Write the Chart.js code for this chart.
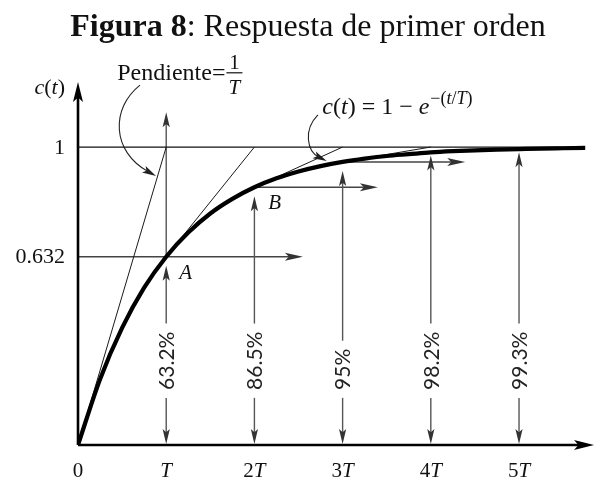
<!DOCTYPE html>
<html>
<head>
<meta charset="utf-8">
<script src="https://cdn.jsdelivr.net/npm/chart.js@4.4.1/dist/chart.umd.min.js"></script>
<style>
  html, body { margin: 0; padding: 0; background: #ffffff; }
  #wrap { width: 596px; height: 480px; }
</style>
</head>
<body>
<div id="wrap"><canvas id="chart" width="596" height="480"></canvas></div>
<script>
// Step response of a first-order system, time in multiples of T
const curveT = [0, 0.25, 0.5, 0.75, 1, 1.25, 1.5, 1.75, 2, 2.25, 2.5, 2.75, 3,
                3.25, 3.5, 3.75, 4, 4.25, 4.5, 4.75, 5, 5.25, 5.5, 5.75];
const curveC = [0, 0.221, 0.393, 0.528, 0.632, 0.713, 0.777, 0.826, 0.865, 0.895, 0.918, 0.936, 0.950,
                0.961, 0.970, 0.976, 0.982, 0.986, 0.989, 0.991, 0.993, 0.995, 0.996, 0.997];

// x axis ticks
const tickValues = [0, 1, 2, 3, 4, 5];
const tickLabels = ['0', 'T', '2T', '3T', '4T', '5T'];

// y axis marks
const levelValues = [0.632, 1];
const levelLabels = ['0.632', '1'];

// percentage reached after each time constant
const percentTimes = [1, 2, 3, 4, 5];
const percentValues = [63.2, 86.5, 95, 98.2, 99.3];
const percentLabels = ['63.2%', '86.5%', '95%', '98.2%', '99.3%'];

// tangents drawn from t = 0, T, 2T, 3T; each reaches the final value one T later
const tangentTimes = [0, 1, 2, 3];

const SERIF = '"Liberation Serif","Times New Roman",serif';
const f = (size, style = 'normal', weight = 'normal') => `${style} ${weight} ${size}px ${SERIF}`;

function valueAt(t) {
  if (t === 0) return 0;
  const i = percentTimes.indexOf(t);
  return percentValues[i] / 100;
}

const curveData = curveT.map((t, i) => ({ x: t, y: curveC[i] }));
const tangentSets = tangentTimes.map(t => ({
  data: [{ x: t, y: valueAt(t) }, { x: t + 1, y: 1 }],
  borderColor: '#1a1a1a', borderWidth: 1, pointRadius: 0, order: 2, tension: 0
}));

function rich(ctx, segs, x, y, align) {
  let w = 0;
  segs.forEach(s => { ctx.font = s.f; s.w = ctx.measureText(s.t).width; w += s.w; });
  let cx = align === 'right' ? x - w : align === 'center' ? x - w / 2 : x;
  ctx.textAlign = 'left';
  segs.forEach(s => { ctx.font = s.f; ctx.fillText(s.t, cx, y + (s.dy || 0)); cx += s.w; });
  return w;
}

function head(ctx, x, y, ang, len, half) {
  ctx.save();
  ctx.translate(x, y);
  ctx.rotate(ang);
  ctx.beginPath();
  ctx.moveTo(0, 0);
  ctx.lineTo(-len, -half);
  ctx.lineTo(-len * 0.78, 0);
  ctx.lineTo(-len, half);
  ctx.closePath();
  ctx.fill();
  ctx.restore();
}

function arrow(ctx, x1, y1, x2, y2, len, half) {
  const ang = Math.atan2(y2 - y1, x2 - x1);
  ctx.beginPath();
  ctx.moveTo(x1, y1);
  ctx.lineTo(x2 - Math.cos(ang) * len * 0.7, y2 - Math.sin(ang) * len * 0.7);
  ctx.stroke();
  head(ctx, x2, y2, ang, len, half);
}

function splitT(label, size) {
  // digit coefficient upright, T in italics
  const segs = [];
  const m = label.match(/^(\d*)(T?)$/);
  if (m[1]) segs.push({ t: m[1], f: f(size) });
  if (m[2]) segs.push({ t: m[2], f: f(size, 'italic') });
  return segs;
}

const diagram = {
  id: 'diagram',
  beforeDatasetsDraw(chart) {
    const { ctx, chartArea: ca, scales: { x, y } } = chart;
    const px = v => x.getPixelForValue(v);
    const py = v => y.getPixelForValue(v);
    ctx.save();

    // horizontal guide arrows at the first three levels
    ctx.strokeStyle = '#444'; ctx.fillStyle = '#333'; ctx.lineWidth = 1.4;
    const guideEnds = [2.55, 3.40, 4.39];
    guideEnds.forEach((end, i) => {
      const t = percentTimes[i];
      const v = percentValues[i] / 100;
      const start = i === 0 ? 0 : t;
      arrow(ctx, px(start), py(v), px(end), py(v), 18, 4);
    });

    // vertical arrows and rotated percentage labels
    const labelBottom = py(0.185);
    percentTimes.forEach((t, i) => {
      const xx = px(t);
      const v = percentValues[i] / 100;
      ctx.font = '21px Lato, "Open Sans", sans-serif';
      const w = ctx.measureText(percentLabels[i]).width;
      ctx.save();
      ctx.translate(xx, labelBottom);
      ctx.rotate(-Math.PI / 2);
      ctx.fillStyle = '#222';
      ctx.textAlign = 'left';
      ctx.textBaseline = 'middle';
      ctx.fillText(percentLabels[i], 0, 1);
      ctx.restore();

      ctx.strokeStyle = '#555'; ctx.fillStyle = '#333'; ctx.lineWidth = 1.4;
      const tipGap = i < 3 ? 9 : 3;
      arrow(ctx, xx, labelBottom - w - 8, xx, py(v) + tipGap, 15, 3.6);
      arrow(ctx, xx, labelBottom + 8, xx, py(0) - 1, 15, 3.6);
    });
    // arrow above point A
    arrow(ctx, px(1), py(percentValues[0] / 100), px(1), py(1.117), 15, 3.6);

    // leader arrows from the annotations
    ctx.strokeStyle = '#222'; ctx.fillStyle = '#222'; ctx.lineWidth = 1.1;
    const leaders = [
      [[0.703, 1.208], [0.37, 1.13], [0.38, 0.985], [0.885, 0.903]],
      [[2.72, 1.108], [2.55, 1.057], [2.60, 0.985], [2.82, 0.953]]
    ];
    leaders.forEach(L => {
      const P = L.map(p => [px(p[0]), py(p[1])]);
      const ang = Math.atan2(P[3][1] - P[2][1], P[3][0] - P[2][0]);
      const ex = P[3][0] - Math.cos(ang) * 9, ey = P[3][1] - Math.sin(ang) * 9;
      ctx.beginPath();
      ctx.moveTo(P[0][0], P[0][1]);
      ctx.bezierCurveTo(P[1][0], P[1][1], P[2][0], P[2][1], ex, ey);
      ctx.stroke();
      head(ctx, P[3][0], P[3][1], ang, 14, 3.8);
    });

    // axes
    ctx.strokeStyle = '#000'; ctx.fillStyle = '#000'; ctx.lineWidth = 2.6;
    arrow(ctx, px(0), py(0), ca.right, py(0), 20, 5);
    arrow(ctx, px(0), py(0), px(0), ca.top + 2, 20, 5);
    ctx.restore();
  },
  afterDraw(chart) {
    const { ctx, scales: { x, y } } = chart;
    const px = v => x.getPixelForValue(v);
    const py = v => y.getPixelForValue(v);
    ctx.save();
    ctx.fillStyle = '#111';

    // title
    ctx.textBaseline = 'alphabetic';
    rich(ctx, [
      { t: 'Figura 8', f: f(32, 'normal', 'bold') },
      { t: ': Respuesta de primer orden', f: f(32) }
    ], 308, 36, 'center');

    ctx.textBaseline = 'middle';
    // x tick labels
    tickValues.forEach((t, i) => rich(ctx, splitT(tickLabels[i], 21), px(t), py(0) + 26, 'center'));
    // y level labels
    levelValues.forEach((v, i) => rich(ctx, [{ t: levelLabels[i], f: f(22) }], px(0) - 13, py(v) + 1, 'right'));
    // y axis name
    rich(ctx, [
      { t: 'c', f: f(22, 'italic') }, { t: '(', f: f(22) },
      { t: 't', f: f(22, 'italic') }, { t: ')', f: f(22) }
    ], px(0) - 13, py(1.198), 'right');

    // point labels
    rich(ctx, [{ t: 'A', f: f(21, 'italic') }], px(1.22), py(0.577), 'center');
    rich(ctx, [{ t: 'B', f: f(21, 'italic') }], px(2.23), py(0.809), 'center');

    // slope annotation
    ctx.textBaseline = 'alphabetic';
    const pw = rich(ctx, [{ t: 'Pendiente=', f: f(24) }], px(0.445), py(1.226), 'left');
    const fx = px(0.445) + pw + 9;
    ctx.textAlign = 'center';
    ctx.font = f(21);
    ctx.fillText('1', fx, py(1.226) - 11);
    ctx.font = f(21, 'italic');
    ctx.fillText('T', fx, py(1.226) + 14);
    ctx.fillRect(fx - 8, py(1.226) - 7.5, 16, 1.2);

    // response formula
    const fy = py(1.11);
    const cx = px(2.77);
    const w1 = rich(ctx, [
      { t: 'c', f: f(24, 'italic') }, { t: '(', f: f(24) },
      { t: 't', f: f(24, 'italic') }, { t: ') = 1 \u2212 ', f: f(24) },
      { t: 'e', f: f(24, 'italic') }
    ], cx, fy, 'left');
    rich(ctx, [
      { t: '\u2212(', f: f(18) }, { t: 't', f: f(18, 'italic') },
      { t: '/', f: f(18) }, { t: 'T', f: f(18, 'italic') }, { t: ')', f: f(18) }
    ], cx + w1 + 1, fy - 10, 'left');
    ctx.restore();
  }
};

new Chart(document.getElementById('chart'), {
  type: 'line',
  data: {
    datasets: [
      {
        label: 'c(t)', data: curveData, borderColor: '#000', borderWidth: 4.2,
        pointRadius: 0, cubicInterpolationMode: 'monotone', order: 0
      },
      {
        label: 'final', data: [{ x: 0, y: 1 }, { x: curveT[curveT.length - 1], y: 1 }],
        borderColor: '#111', borderWidth: 1.3, pointRadius: 0, order: 3
      },
      ...tangentSets
    ]
  },
  options: {
    responsive: false,
    animation: false,
    layout: { padding: { left: 78, right: 2, top: 80, bottom: 35 } },
    scales: {
      x: { type: 'linear', min: 0, max: 5.85, display: false },
      y: { type: 'linear', min: 0, max: 1.225, display: false }
    },
    plugins: { legend: { display: false }, tooltip: { enabled: false }, title: { display: false } }
  },
  plugins: [diagram]
});
</script>
</body>
</html>
